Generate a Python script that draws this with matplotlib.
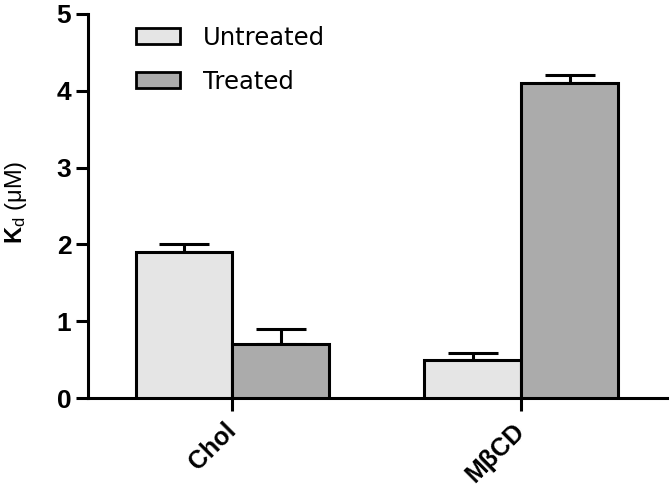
import matplotlib
matplotlib.use("Agg")
import matplotlib.pyplot as plt
from matplotlib import font_manager
import numpy as np
import os

categories = ["Chol", "MβCD"]
series_names = ["Untreated", "Treated"]
untreated = [1.9, 0.5]
untreated_err = [0.1, 0.08]
treated = [0.7, 4.1]
treated_err = [0.2, 0.1]
y_ticks = [0, 1, 2, 3, 4, 5]

# avoid the condensed variant being picked for "Liberation Sans"
font_manager.fontManager.ttflist = [f for f in font_manager.fontManager.ttflist
                                    if 'Narrow' not in os.path.basename(f.fname)]

plt.rcParams['font.family'] = ['Liberation Sans', 'DejaVu Sans']
plt.rcParams['mathtext.fontset'] = 'custom'
plt.rcParams['mathtext.rm'] = 'Liberation Sans'
plt.rcParams['mathtext.bf'] = 'Liberation Sans:bold'
plt.rcParams['mathtext.it'] = 'Liberation Sans'

fig = plt.figure(figsize=(6.7, 4.92), dpi=100)
ax = fig.add_axes([88/670, 1-398/492, (667-88)/670, (398-14)/492])

x = np.arange(len(categories))
w = 0.335
lw = 2.2
b1 = ax.bar(x - w/2, untreated, w, color='#e5e5e5', edgecolor='black', linewidth=lw,
            label=series_names[0], zorder=3)
b2 = ax.bar(x + w/2, treated, w, color='#ababab', edgecolor='black', linewidth=lw,
            label=series_names[1], zorder=3)
ax.errorbar(x - w/2, untreated, yerr=[np.zeros(2), untreated_err], fmt='none',
            ecolor='black', elinewidth=lw, capsize=18, capthick=lw, zorder=2)
ax.errorbar(x + w/2, treated, yerr=[np.zeros(2), treated_err], fmt='none',
            ecolor='black', elinewidth=lw, capsize=18, capthick=lw, zorder=2)

ax.set_xlim(-0.5, 1.505)
ax.set_ylim(0, 5)
ax.set_yticks(y_ticks)
ax.set_yticklabels([str(t) for t in y_ticks], fontsize=19, fontweight='bold')
ax.set_xticks(x)
ax.set_xticklabels(categories, fontsize=18, fontweight='bold', rotation=45,
                   ha='right', va='center', rotation_mode='anchor')
ax.tick_params(axis='both', width=lw, length=9, direction='out')
ax.tick_params(axis='x', pad=12)
ax.tick_params(axis='y', pad=3)
for s in ['top', 'right']:
    ax.spines[s].set_visible(False)
for s in ['left', 'bottom']:
    ax.spines[s].set_linewidth(lw)

fig.text(3/670, 1-202/492, r'$\mathbf{K}_{\mathrm{d}}$ (μM)', fontsize=17,
         rotation=90, ha='left', va='center')

leg = ax.legend(handles=[b1, b2], loc='upper left', bbox_to_anchor=(139/670 - 0.004, 1-26/492),
                bbox_transform=fig.transFigure, frameon=False,
                prop={'family': 'DejaVu Sans', 'size': 17.5},
                handlelength=1.8, handleheight=0.63, handletextpad=0.95,
                labelspacing=0.82, borderaxespad=0, borderpad=0)
for p in leg.get_patches():
    p.set_linewidth(2.0)

fig.savefig("out.png", dpi=100)
